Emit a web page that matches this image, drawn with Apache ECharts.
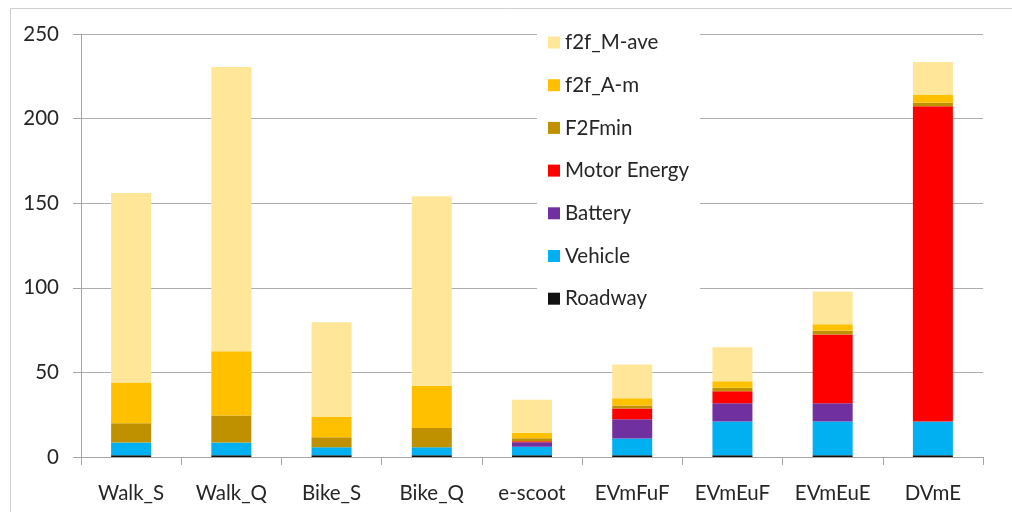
<!DOCTYPE html>
<html>
<head>
<meta charset="utf-8">
<script src="https://cdn.jsdelivr.net/npm/echarts@6/dist/echarts.min.js"></script>
<style>
  html, body { margin: 0; padding: 0; background: #fff; }
  #main { width: 1012px; height: 512px; }
</style>
</head>
<body>
<div id="main"></div>
<script>
// categories and stacked values (bottom to top)
const categories = ['Walk_S', 'Walk_Q', 'Bike_S', 'Bike_Q', 'e-scoot', 'EVmFuF', 'EVmEuF', 'EVmEuE', 'DVmE'];

const roadway  = [1, 1, 1, 1, 1, 1, 1, 1, 1];
const vehicle  = [7.5, 7.5, 4.7, 4.7, 5, 10, 20, 20, 20];
const battery  = [0, 0, 0, 0, 2.7, 11.3, 10.8, 10.8, 0];
const motor    = [0, 0, 0, 0, 0.6, 6.3, 7.1, 40.6, 186.3];
const f2fMin   = [11.5, 16, 6, 11.4, 1.8, 1.9, 2, 2.2, 2];
const f2fAm    = [24, 38, 12, 25, 3.2, 4.2, 3.9, 3.9, 4.7];
const f2fMave  = [112, 168, 56, 112, 19.5, 20, 20, 19.3, 19.4];

const yTicks = [0, 50, 100, 150, 200, 250];

const chart = echarts.init(document.getElementById('main'), null, { renderer: 'canvas' });

const font = 'Lato, "Liberation Sans", sans-serif';
const textColor = '#262626';

function bar(name, data, color) {
  return {
    name: name,
    type: 'bar',
    stack: 'total',
    barWidth: 40,
    data: data,
    itemStyle: { color: color },
    emphasis: { disabled: true }
  };
}

var option = {
  backgroundColor: '#fff',
  animation: false,
  grid: { left: 81, right: 29, top: 34, bottom: 55 },
  graphic: [{
    type: 'rect',
    shape: { x: 10.5, y: 8.5, width: 1100, height: 600 },
    style: { fill: 'none', stroke: '#d0d0d0', lineWidth: 1 },
    silent: true
  }],
  legend: {
    orient: 'vertical',
    left: 537,
    top: 24,
    padding: [8, 11, 8, 11],
    backgroundColor: '#fff',
    itemWidth: 12,
    itemHeight: 12,
    itemGap: 21.7,
    icon: 'rect',
    data: ['f2f_M-ave', 'f2f_A-m', 'F2Fmin', 'Motor Energy', 'Battery', 'Vehicle', 'Roadway'],
    textStyle: { fontFamily: font, fontSize: 20.5, color: textColor, lineHeight: 20 }
  },
  xAxis: {
    type: 'category',
    data: categories,
    axisLine: { lineStyle: { color: '#a6a6a6', width: 1 } },
    axisTick: { show: true, length: 8, alignWithLabel: false, lineStyle: { color: '#a6a6a6' } },
    axisLabel: { margin: 26, fontFamily: font, fontSize: 20.5, color: textColor }
  },
  yAxis: {
    type: 'value',
    min: 0,
    max: 250,
    interval: 50,
    axisLine: { show: true, lineStyle: { color: '#a6a6a6', width: 1 } },
    axisTick: { show: true, length: 8, lineStyle: { color: '#a6a6a6' } },
    splitLine: { lineStyle: { color: '#adadad', width: 1 } },
    axisLabel: {
      margin: 22,
      fontFamily: font,
      fontSize: 20.5,
      color: textColor,
      formatter: function (v) { return yTicks.indexOf(v) >= 0 ? String(v) : ''; }
    }
  },
  series: [
    bar('Roadway', roadway, '#111111'),
    bar('Vehicle', vehicle, '#00B0F0'),
    bar('Battery', battery, '#7030A0'),
    bar('Motor Energy', motor, '#FF0000'),
    bar('F2Fmin', f2fMin, '#BF9000'),
    bar('f2f_A-m', f2fAm, '#FFC000'),
    bar('f2f_M-ave', f2fMave, '#FFE699')
  ]
};

chart.setOption(option);
</script>
</body>
</html>
